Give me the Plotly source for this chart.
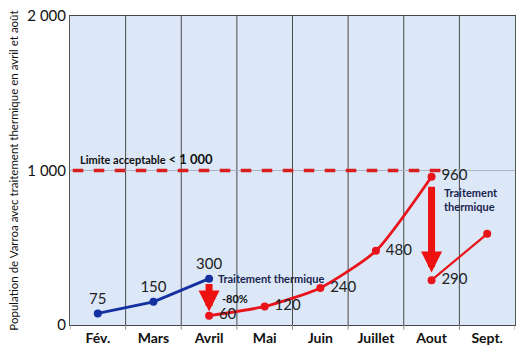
import plotly.graph_objects as go

months = ["Fév.", "Mars", "Avril", "Mai", "Juin", "Juillet", "Aout", "Sept."]
blue_idx = [0, 1, 2]
blue_vals = [75, 150, 300]
red_idx = [2, 3, 4, 5, 6]
red_vals = [60, 120, 240, 480, 960]
red2_idx = [6, 7]
red2_vals = [290, 590]
limit = 1000
y_ticks = [0, 1000, 2000]
y_ticktext = ["0", "1 000", "2 000"]

BLUE = "#1530a0"
RED = "#e8141a"
FONT = "Lato"

fig = go.Figure()
fig.add_trace(go.Scatter(
    x=blue_idx, y=blue_vals, mode="lines+markers+text",
    line=dict(color=BLUE, width=2.8), marker=dict(color=BLUE, size=8),
    text=[str(v) for v in blue_vals], textposition="top center",
    textfont=dict(family=FONT, size=15, color="#222"), cliponaxis=False))
fig.add_trace(go.Scatter(
    x=red_idx, y=red_vals, mode="lines+markers+text",
    line=dict(color=RED, width=2.8, shape="spline", smoothing=0.6),
    marker=dict(color=RED, size=8),
    text=[" " + str(v) for v in red_vals], textposition="middle right",
    textfont=dict(family=FONT, size=15, color="#222"), cliponaxis=False))
fig.add_trace(go.Scatter(
    x=red2_idx, y=red2_vals, mode="lines+markers+text",
    line=dict(color=RED, width=2.2), marker=dict(color=RED, size=8),
    text=[" " + str(red2_vals[0]), ""], textposition="middle right",
    textfont=dict(family=FONT, size=15, color="#222"), cliponaxis=False))

shapes = []
# vertical grid lines at category boundaries
for k in range(1, len(months)):
    shapes.append(dict(type="line", xref="x", yref="paper", x0=k - 0.5, x1=k - 0.5,
                       y0=0, y1=1, line=dict(color="#4a4a4a", width=1), layer="below"))
for k in range(0, len(months) + 1):
    shapes.append(dict(type="line", xref="x", yref="paper", x0=k - 0.5, x1=k - 0.5,
                       y0=-0.015, y1=0, line=dict(color="#888", width=1)))
# limit line
shapes.append(dict(type="line", xref="x", yref="y", x0=-0.45, x1=6.2, y0=limit, y1=limit,
                   line=dict(color="#d81e1e", width=3.5, dash="dash")))
fig.update_layout(shapes=shapes)

ann = []
ann.append(dict(x=-0.35, y=limit, xref="x", yref="y", yanchor="bottom", xanchor="left",
                yshift=2, showarrow=False,
                text="<b>Limite acceptable</b> <b><span style='font-size:13px'>< 1 000</span></b>",
                font=dict(family=FONT, size=11, color="#111")))
# treatment arrows
ann.append(dict(x=2, y=88, ax=2, ay=275, xref="x", yref="y", axref="x", ayref="y",
                text="", showarrow=True, arrowhead=2, arrowsize=0.6, arrowwidth=7,
                arrowcolor="#ee1111"))
ann.append(dict(x=6, y=340, ax=6, ay=905, xref="x", yref="y", axref="x", ayref="y",
                text="", showarrow=True, arrowhead=2, arrowsize=0.6, arrowwidth=7,
                arrowcolor="#ee1111"))
ann.append(dict(x=2.12, y=300, xref="x", yref="y", xanchor="left", yanchor="middle",
                showarrow=False, text="<b>Traitement thermique</b>",
                font=dict(family=FONT, size=11, color="#1a2550")))
ann.append(dict(x=2.2, y=170, xref="x", yref="y", xanchor="left", yanchor="middle",
                showarrow=False, text="<b>-80%</b>",
                font=dict(family=FONT, size=11, color="#111")))
ann.append(dict(x=6.18, y=810, xref="x", yref="y", xanchor="left", yanchor="middle",
                showarrow=False, text="<b>Traitement<br>thermique</b>", align="left",
                font=dict(family=FONT, size=11, color="#1a2550")))
fig.update_layout(annotations=ann)

fig.update_layout(
    width=522, height=355,
    margin=dict(l=70, r=6, t=14, b=30),
    paper_bgcolor="white", plot_bgcolor="#dce7f7",
    showlegend=False,
    font=dict(family=FONT, color="#111"),
    xaxis=dict(range=[-0.5, len(months) - 0.5], tickvals=list(range(len(months))),
               ticktext=["<b>%s</b>" % m for m in months], showgrid=False, zeroline=False,
               showline=True, mirror=True, linecolor="#444", linewidth=1,
               tickfont=dict(family=FONT, size=14, color="#111"), ticks=""),
    yaxis=dict(range=[0, 2000], tickvals=y_ticks, ticktext=y_ticktext,
               showgrid=True, gridcolor="#aab4c2", zeroline=False,
               showline=True, mirror=True, linecolor="#555", linewidth=1,
               tickfont=dict(family=FONT, size=15, color="#111"), ticks="",
               title=dict(text="Population de Varroa avec traitement thermique en avril et août",
                          font=dict(family=FONT, size=11.5, color="#111"), standoff=6)),
)

fig.write_html("out.html")
